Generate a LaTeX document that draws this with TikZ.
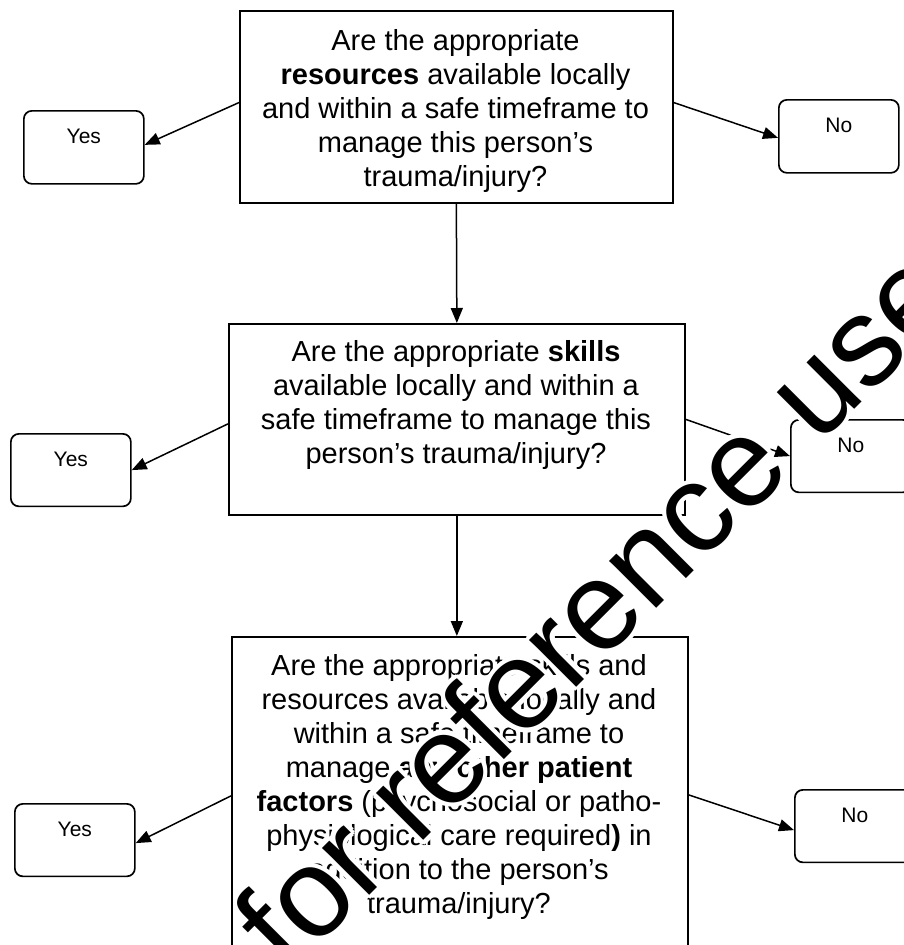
\documentclass[tikz,border=0pt]{standalone}
\usepackage{fontspec}
\setmainfont{Liberation Sans}
\usetikzlibrary{arrows.meta}
\begin{document}
\begin{tikzpicture}[x=1pt,y=-1pt,
  qbox/.style={draw, line width=1.7pt, anchor=north west, inner sep=0pt},
  qtext/.style={anchor=north, inner sep=0pt, align=center, font=\fontsize{29}{34}\selectfont},
  ynbox/.style={draw, line width=1.7pt, rounded corners=8pt, anchor=north west,
    minimum width=120pt, inner xsep=0pt, inner ysep=0pt, text height=32.5pt, text depth=40pt,
    font=\fontsize{21}{24}\selectfont},
  arr/.style={line width=1.5pt, -{Triangle[length=15pt,width=12pt]}},
  wm/.style={anchor=base west, rotate=45, inner sep=0pt, font=\fontsize{126}{126}\selectfont}]
\useasboundingbox (0,0) rectangle (904,945);
\clip (0,0) rectangle (904,945);
\fill[white] (0,0) rectangle (904,945);
% question boxes
\node[qbox, minimum width=433pt, minimum height=192pt] (b1) at (239,10) {};
\node[qbox, minimum width=456pt, minimum height=191pt] (b2) at (228,323) {};
\node[qbox, minimum width=456pt, minimum height=340pt] (b3) at (231,636) {};
\node[qtext] (t1) at (455.5,26.2) {\strut Are the appropriate\\ \textbf{resources} available locally\\ and within a safe timeframe to\\ manage this person’s\\ trauma/injury?};
\node[qtext] (t2) at (456,337.9) {\strut Are the appropriate \textbf{skills}\\ available locally and within a\\ safe timeframe to manage this\\ person’s trauma/injury?};
\node[qtext] (t3) at (459,651.2) {\strut Are the appropriate skills and\\ resources available locally and\\ within a safe timeframe to\\ manage \textbf{any other patient}\\ \textbf{factors} (psychosocial or patho-\\ physiological care required\textbf{)} in\\ addition to the person’s\\ trauma/injury?};
% answer boxes
\node[ynbox, text height=33pt] (y1) at (23,110) {Yes};
\node[ynbox, text height=33pt] (n1) at (778,99) {No};
\node[ynbox] (y2) at (10,433) {Yes};
\node[ynbox] (n2) at (790,419) {No};
\node[ynbox] (y3) at (14,803) {Yes};
\node[ynbox] (n3) at (794,789) {No};
% connectors
\draw[arr] ([yshift=4.3pt]b1.west) -- ([yshift=2.5pt]y1.east);
\draw[arr] ([yshift=4.3pt]b1.east) -- ([yshift=-1.5pt]n1.west);
\draw[arr] (b1.south) -- (b2.north);
\draw[arr] ([yshift=-4.5pt]b2.west) -- (y2.east);
\draw[arr] (b2.east) -- (n2.west);
\draw[arr] (b2.south) -- (b2.south |- b3.north);
\draw[arr] ([yshift=11pt]b3.west) -- ([yshift=-3pt]y3.east);
\draw[arr] ([yshift=12pt]b3.east) -- ([yshift=-4pt]n3.west);
% watermark
\foreach \a in {0,30,...,330} {
  \node[wm, white, shift={(\a:4.5pt)}] at (288.6,975.6) {for reference use};
}
\node[wm] (wmk) at (288.6,975.6) {for reference use};
\end{tikzpicture}
\end{document}
